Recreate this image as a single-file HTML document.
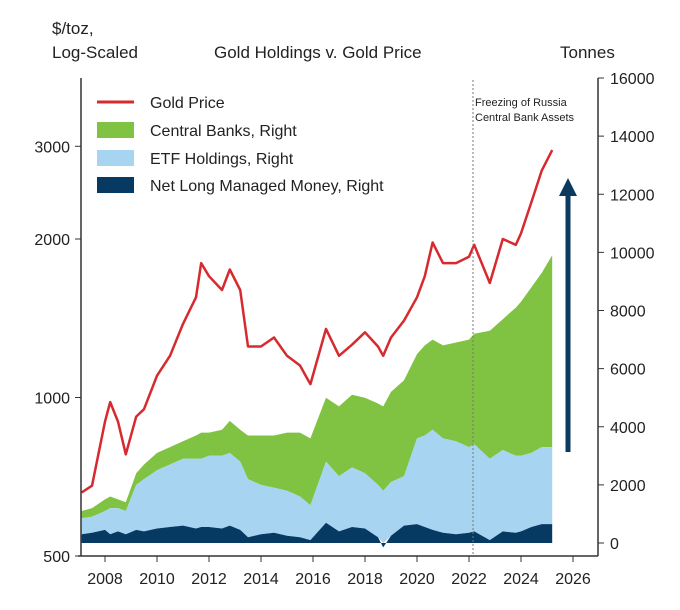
<!DOCTYPE html>
<html><head><meta charset="utf-8"><style>
body{margin:0;background:#fff;font-family:"Liberation Sans",sans-serif;}
svg text{font-family:"Liberation Sans",sans-serif;fill:#222;}
</style></head><body>
<svg id="chart" width="680" height="605" viewBox="0 0 680 605">
<text x="52" y="34" font-size="17">$/toz,</text>
<text x="52" y="58" font-size="17">Log-Scaled</text>
<text x="214" y="58" font-size="17">Gold Holdings v. Gold Price</text>
<text x="560" y="58" font-size="17">Tonnes</text>
<g id="areas"></g><g id="line"></g><g id="axes"></g>
<line x1="473" y1="80" x2="473" y2="556" stroke="#777" stroke-dasharray="2,2" stroke-width="1"/>
<text x="475" y="106" font-size="11">Freezing of Russia</text>
<text x="475" y="121" font-size="11">Central Bank Assets</text>
<g>
<line x1="568" y1="452" x2="568" y2="195" stroke="#0b3a5e" stroke-width="5"/>
<polygon points="559,196 577,196 568,178" fill="#0b3a5e"/></g>
<g>
<line x1="97" y1="102" x2="134" y2="102" stroke="#d62a2f" stroke-width="3"/>
<text x="150" y="108" font-size="16">Gold Price</text>
<rect x="97" y="122" width="37" height="16" fill="#80c342"/>
<text x="150" y="136" font-size="16">Central Banks, Right</text>
<rect x="97" y="150" width="37" height="16" fill="#a7d4f1"/>
<text x="150" y="164" font-size="16">ETF Holdings, Right</text>
<rect x="97" y="177" width="37" height="16" fill="#063a63"/>
<text x="150" y="191" font-size="16">Net Long Managed Money, Right</text>
</g>
</svg>
<script>
const dates=[2007.1,2007.5,2008.0,2008.2,2008.5,2008.8,2009.2,2009.5,2010,2010.5,2011,2011.5,2011.7,2012,2012.5,2012.8,2013.2,2013.5,2014,2014.5,2015,2015.5,2015.9,2016.5,2017,2017.5,2018,2018.5,2018.7,2019,2019.5,2020,2020.3,2020.6,2021,2021.5,2022,2022.2,2022.8,2023.3,2023.8,2024,2024.4,2024.8,2025.2];
const goldPrice=[660,680,900,980,900,780,920,950,1100,1200,1380,1550,1800,1700,1600,1750,1600,1250,1250,1300,1200,1150,1060,1350,1200,1260,1330,1250,1200,1300,1400,1550,1700,1970,1800,1800,1850,1950,1650,2000,1950,2050,2350,2700,2950];
const netLong=[300,350,450,300,400,300,450,400,500,550,600,500,550,550,500,600,450,200,300,350,250,200,100,700,400,550,500,200,-150,250,600,650,550,450,350,300,350,400,100,400,350,400,550,650,650];
const etfHoldings=[550,550,650,900,800,800,1550,1800,2000,2150,2300,2400,2350,2450,2500,2500,2350,2000,1700,1550,1550,1400,1200,2100,1900,2050,1900,1800,1800,1850,1700,2950,3150,3450,3250,3200,2950,3000,2800,2800,2650,2600,2550,2650,2650];
const centralBanks=[250,300,400,400,300,300,400,500,600,600,600,800,900,800,900,1100,1100,1500,1700,1800,2000,2200,2300,2200,2400,2500,2600,2800,2900,3100,3300,2900,3100,3100,3200,3400,3700,3800,4400,4500,5100,5300,5700,6000,6600];
const xTicks=[2008,2010,2012,2014,2016,2018,2020,2022,2024,2026];
const leftTicks=[500,1000,2000,3000];
const rightTicks=[0,2000,4000,6000,8000,10000,12000,14000,16000];
const NS='http://www.w3.org/2000/svg';
const X=t=>105+(t-2008)*26;
const YL=v=>556-Math.log2(v/500)*158.5;
const YR=v=>543-v/16000*465;
function mk(tag,attrs,parent){const e=document.createElementNS(NS,tag);for(const k in attrs)e.setAttribute(k,attrs[k]);parent.appendChild(e);return e;}
const areas=document.getElementById('areas'),line=document.getElementById('line'),axes=document.getElementById('axes');
function band(lo,hi,fill,name){
 let d='M'+dates.map((t,i)=>X(t).toFixed(1)+','+YR(hi[i]).toFixed(1)).join('L');
 for(let i=dates.length-1;i>=0;i--)d+='L'+X(dates[i]).toFixed(1)+','+YR(lo[i]).toFixed(1);
 const p=mk('path',{d:d+'Z',fill:fill},areas);
 
 
}
const zero=dates.map(()=>0);
const nlTop=netLong.slice();
const etfBase=netLong.map(v=>Math.max(v,0));
const etfTop=etfBase.map((v,i)=>v+etfHoldings[i]);
const cbTop=etfTop.map((v,i)=>v+centralBanks[i]);
band(etfTop,cbTop,'#80c342','central-banks-area');
band(etfBase,etfTop,'#a7d4f1','etf-holdings-area');
band(zero,nlTop,'#063a63','net-long-area');
const gl=mk('path',{d:'M'+dates.map((t,i)=>X(t).toFixed(1)+','+YL(goldPrice[i]).toFixed(1)).join('L'),fill:'none',stroke:'#d62a2f','stroke-width':2.5,'stroke-linejoin':'round'},line);


const la=mk('line',{x1:81,y1:78,x2:81,y2:556,stroke:'#333','stroke-width':1.5},axes);


const ba=mk('line',{x1:78,y1:556,x2:598,y2:556,stroke:'#333','stroke-width':1.5},axes);


const ra=mk('line',{x1:598,y1:78,x2:598,y2:556,stroke:'#333','stroke-width':1.5},axes);


xTicks.forEach(t=>{
 mk('line',{x1:X(t),y1:556,x2:X(t),y2:562,stroke:'#333'},axes);
 const tx=mk('text',{x:X(t),y:584,'font-size':16,'text-anchor':'middle'},axes);tx.textContent=t;
 
 
});
leftTicks.forEach(v=>{
 mk('line',{x1:75,y1:YL(v),x2:81,y2:YL(v),stroke:'#333'},axes);
 const tx=mk('text',{x:70,y:YL(v)+6,'font-size':16,'text-anchor':'end'},axes);tx.textContent=v;
 
 
});
rightTicks.forEach(v=>{
 mk('line',{x1:598,y1:YR(v),x2:604,y2:YR(v),stroke:'#333'},axes);
 const tx=mk('text',{x:610,y:YR(v)+6,'font-size':16},axes);tx.textContent=v;
 
 
});
</script>
</body></html>
